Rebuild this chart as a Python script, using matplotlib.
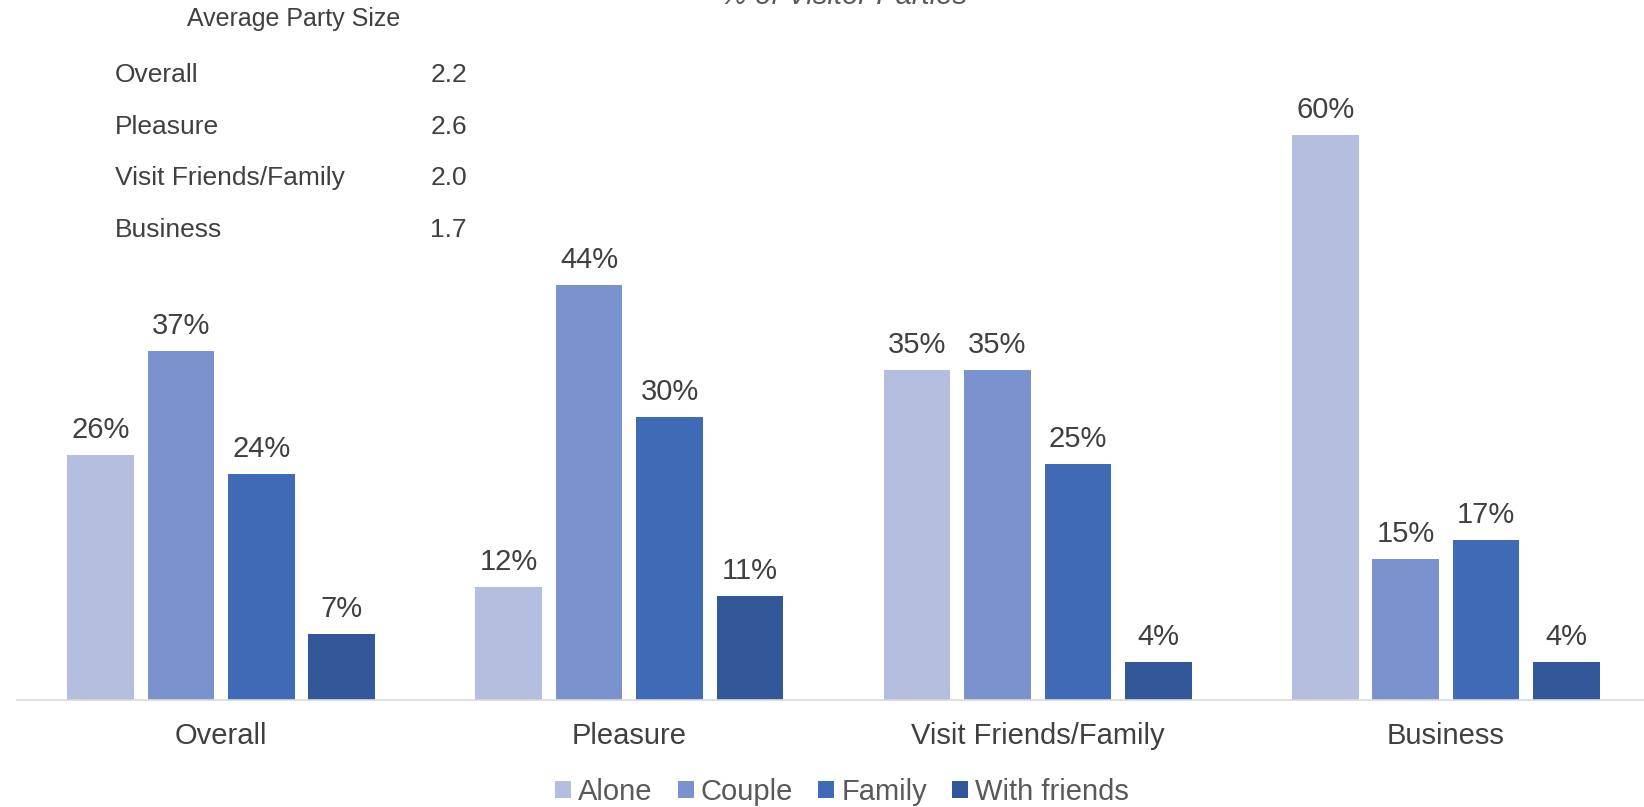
import numpy as np
import matplotlib
matplotlib.use('Agg')
import matplotlib.pyplot as plt
from matplotlib import rc

rc('font', **{'family': 'sans-serif', 'sans-serif': ['Liberation Sans'], 'size': 21})

categories = ['Overall', 'Pleasure', 'Visit Friends/Family', 'Business']
series = ['Alone', 'Couple', 'Family', 'With friends']
alone = [26, 12, 35, 60]
couple = [37, 44, 35, 15]
family = [24, 30, 25, 17]
with_friends = [7, 11, 4, 4]
party_size_labels = ['Overall', 'Pleasure', 'Visit Friends/Family', 'Business']
party_size_values = ['2.2', '2.6', '2.0', '1.7']

colors = ['#B4BFDF', '#7A93CF', '#3E6AB6', '#325899']
W, H = 1644, 807


def plot():
    fig = plt.figure(figsize=(W / 100, H / 100), dpi=100)
    ax = fig.add_axes([17 / W, 107 / H, 1633 / W, 700 / H])

    x = np.arange(len(categories))
    width = 0.163
    pitch = 0.197
    for i, (name, vals) in enumerate(zip(series, (alone, couple, family, with_friends))):
        pos = x + (i - 1.5) * pitch
        bars = ax.bar(pos, vals, width, color=colors[i], label=name)
        for b, v in zip(bars, vals):
            ax.annotate('%d%%' % v, (b.get_x() + b.get_width() / 2, v),
                        xytext=(0, 8), textcoords='offset points',
                        ha='center', va='bottom', color='#404040', fontsize=21)

    ax.set_xlim(-0.5, 3.5)
    ax.set_ylim(0, 74.3)
    ax.set_xticks(x)
    ax.set_xticklabels(categories, color='#404040', fontsize=21)
    ax.tick_params(axis='x', length=0, pad=16)
    ax.set_yticks([])
    for s in ('top', 'right', 'left'):
        ax.spines[s].set_visible(False)
    ax.spines['bottom'].set_color('#D9D9D9')
    ax.spines['bottom'].set_linewidth(1.2)

    # title, cut off at the top edge like in the original
    fig.text(844 / W, 1 - 4 / H, '% of Visitor Parties', ha='center', va='baseline',
             style='italic', color='#595959', fontsize=21)

    # average party size table
    fig.text(187 / W, 1 - 19 / H, 'Average Party Size', ha='left', va='center',
             color='#404040', fontsize=18)
    ys = [75.5, 127, 178, 230]
    for lab, val, y in zip(party_size_labels, party_size_values, ys):
        fig.text(115 / W, 1 - y / H, lab, ha='left', va='center', color='#404040', fontsize=19)
        fig.text(467 / W, 1 - y / H, val, ha='right', va='center', color='#404040', fontsize=19)

    fig.legend(loc='center', bbox_to_anchor=(842 / W, 1 - 792 / H), ncol=4, frameon=False,
               handlelength=0.55, handleheight=0.55, handletextpad=0.25, columnspacing=0.85,
               labelcolor='#595959', fontsize=21)

    fig.savefig('out.png', dpi=100)


plot()
